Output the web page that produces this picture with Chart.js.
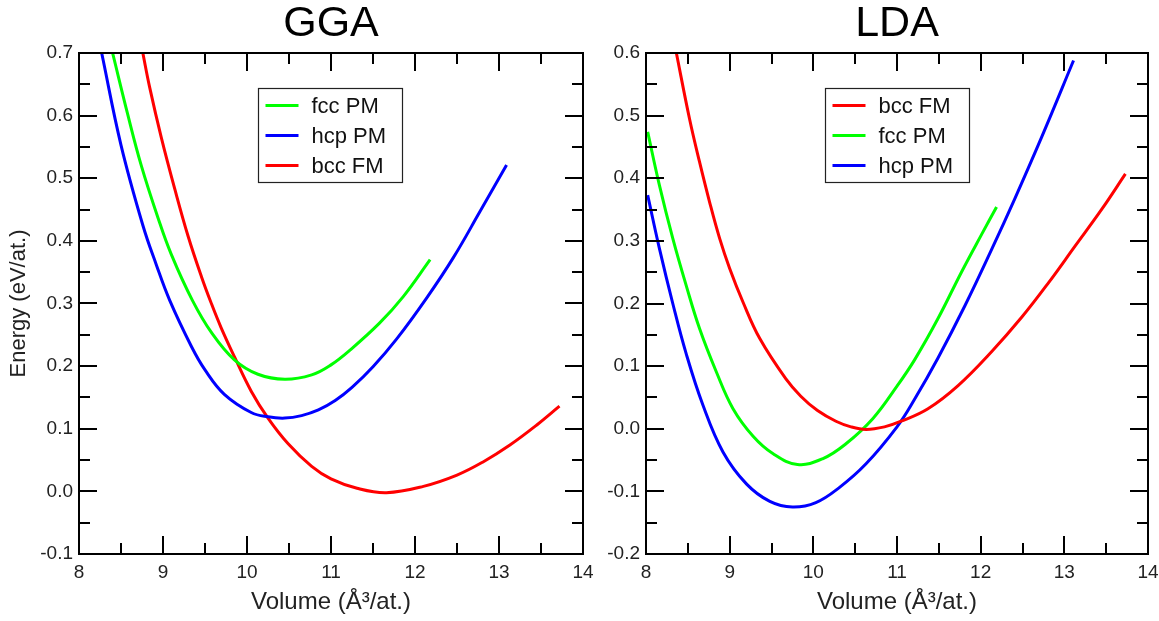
<!DOCTYPE html>
<html>
<head>
<meta charset="utf-8">
<script src="https://cdn.jsdelivr.net/npm/chart.js@4.4.0/dist/chart.umd.min.js"></script>
<style>
  html, body { margin: 0; padding: 0; background: #fff; }
  #wrap { position: relative; width: 1159px; height: 621px; }
  #ggaBox { position: absolute; left: 0; top: 0; width: 595px; height: 621px; }
  #ldaBox { position: absolute; left: 595px; top: 0; width: 564px; height: 621px; }
</style>
</head>
<body>
<div id="wrap">
  <div id="ggaBox"><canvas id="ggaChart"></canvas></div>
  <div id="ldaBox"><canvas id="ldaChart"></canvas></div>
</div>
<script>
// GGA curves (volume in A^3/at., energy in eV/at.)
const ggaFccV = [8.40, 8.58, 8.74, 8.94, 9.10, 9.35, 9.58, 9.85, 10.13, 10.45, 10.77, 11.00, 11.23, 11.58, 11.86, 12.18];
const ggaFccE = [0.700, 0.602, 0.521, 0.437, 0.378, 0.305, 0.253, 0.210, 0.187, 0.179, 0.186, 0.202, 0.226, 0.269, 0.311, 0.370];
const ggaHcpV = [8.27, 8.50, 8.76, 8.92, 9.08, 9.34, 9.50, 9.73, 10.05, 10.25, 10.45, 10.65, 10.85, 11.05, 11.25, 11.50, 11.78, 12.14, 12.46, 12.77, 13.09];
const ggaHcpE = [0.700, 0.553, 0.425, 0.362, 0.305, 0.231, 0.194, 0.155, 0.126, 0.119, 0.117, 0.121, 0.130, 0.145, 0.166, 0.199, 0.243, 0.309, 0.374, 0.446, 0.521];
const ggaBccV = [8.76, 8.84, 8.98, 9.14, 9.30, 9.46, 9.57, 9.69, 9.85, 10.05, 10.25, 10.49, 10.77, 11.00, 11.31, 11.66, 12.10, 12.50, 12.81, 13.13, 13.45, 13.72];
const ggaBccE = [0.700, 0.646, 0.565, 0.483, 0.407, 0.342, 0.302, 0.262, 0.215, 0.160, 0.117, 0.076, 0.040, 0.020, 0.005, -0.002, 0.008, 0.026, 0.047, 0.074, 0.106, 0.136];

// LDA curves
const ldaBccV = [8.36, 8.52, 8.64, 8.76, 8.88, 9.00, 9.16, 9.36, 9.67, 9.85, 10.05, 10.27, 10.45, 10.63, 10.85, 11.05, 11.37, 11.73, 12.13, 12.49, 12.81, 13.13, 13.45, 13.73];
const ldaBccE = [0.602, 0.495, 0.426, 0.362, 0.304, 0.256, 0.202, 0.144, 0.080, 0.052, 0.029, 0.012, 0.003, -0.001, 0.003, 0.012, 0.032, 0.069, 0.123, 0.178, 0.233, 0.292, 0.351, 0.407];
const ldaFccV = [8.02, 8.16, 8.32, 8.48, 8.64, 8.84, 9.04, 9.28, 9.52, 9.81, 10.11, 10.39, 10.71, 11.00, 11.21, 11.49, 11.77, 12.01, 12.19];
const ldaFccE = [0.474, 0.389, 0.304, 0.229, 0.160, 0.091, 0.032, -0.012, -0.040, -0.057, -0.048, -0.024, 0.016, 0.068, 0.110, 0.176, 0.250, 0.310, 0.354];
const ldaHcpV = [8.02, 8.16, 8.32, 8.48, 8.68, 8.92, 9.20, 9.48, 9.75, 10.03, 10.31, 10.63, 11.00, 11.21, 11.49, 11.81, 12.13, 12.41, 12.73, 13.11];
const ldaHcpE = [0.373, 0.288, 0.200, 0.120, 0.038, -0.037, -0.088, -0.116, -0.125, -0.118, -0.094, -0.056, 0.003, 0.047, 0.113, 0.196, 0.286, 0.368, 0.466, 0.588];

const xTickValues = [8, 9, 10, 11, 12, 13, 14];
const ggaYRange = [-0.1, 0.7];
const ldaYRange = [-0.2, 0.6];

const FONT = "'Liberation Sans', Arial, Helvetica, sans-serif";
const RED = "#ff0000", GREEN = "#00ff00", BLUE = "#0000ff";

function pts(xs, ys) {
    return xs.map((v, i) => ({ x: v, y: ys[i] }));
}

function series(label, xs, ys, color) {
    return {
        label: label,
        data: pts(xs, ys),
        borderColor: color,
        backgroundColor: color,
        borderWidth: 3,
        pointRadius: 0,
        tension: 0.4,
        fill: false
    };
}

// frame + inward ticks on all four sides, plus legend box inside the plot
const frameTicks = {
    id: "frameTicks",
    afterDatasetsDraw(chart) {
        const { ctx, chartArea: a, scales: { x, y } } = chart;
        ctx.save();
        ctx.strokeStyle = "#000";
        ctx.lineWidth = 2;
        ctx.strokeRect(a.left, a.top, a.right - a.left, a.bottom - a.top);
        ctx.beginPath();
        const nx = Math.round((x.max - x.min) / 0.5);
        for (let k = 0; k <= nx; k++) {
            const px = Math.round(x.getPixelForValue(x.min + k * 0.5));
            const len = k % 2 === 0 ? 18 : 11;
            ctx.moveTo(px, a.bottom); ctx.lineTo(px, a.bottom - len);
            ctx.moveTo(px, a.top); ctx.lineTo(px, a.top + len);
        }
        const ny = Math.round((y.max - y.min) / 0.05);
        for (let k = 0; k <= ny; k++) {
            const py = Math.round(y.getPixelForValue(y.min + k * 0.05));
            const len = k % 2 === 0 ? 18 : 11;
            ctx.moveTo(a.left, py); ctx.lineTo(a.left + len, py);
            ctx.moveTo(a.right, py); ctx.lineTo(a.right - len, py);
        }
        ctx.stroke();

        // legend
        const bx = a.left + 179.5, by = a.top + 35.5, bw = 144, bh = 94;
        ctx.fillStyle = "#fff";
        ctx.fillRect(bx, by, bw, bh);
        ctx.lineWidth = 1.2;
        ctx.strokeStyle = "#222";
        ctx.strokeRect(bx, by, bw, bh);
        ctx.font = "22px " + FONT;
        ctx.textBaseline = "middle";
        chart.data.datasets.forEach((ds, i) => {
            const ly = by + 17 + i * 30;
            ctx.strokeStyle = ds.borderColor;
            ctx.lineWidth = 3;
            ctx.beginPath();
            ctx.moveTo(bx + 7, ly);
            ctx.lineTo(bx + 40, ly);
            ctx.stroke();
            ctx.fillStyle = "#111";
            ctx.fillText(ds.label, bx + 53, ly + 1);
        });
        ctx.restore();
    }
};

function makeChart(id, title, datasets, yRange, yWidth, showYTitle, padRight) {
    return new Chart(document.getElementById(id), {
        type: "line",
        data: { datasets: datasets },
        plugins: [frameTicks],
        options: {
            responsive: true,
            maintainAspectRatio: false,
            animation: false,
            layout: { padding: { left: 0, right: padRight, top: 0, bottom: 0 } },
            plugins: {
                legend: { display: false },
                tooltip: { enabled: false },
                title: {
                    display: true,
                    fullSize: false,
                    text: title,
                    color: "#000",
                    font: { family: FONT, size: 43, weight: "normal", lineHeight: 1.1 },
                    padding: { top: 0, bottom: 5.7 }
                }
            },
            scales: {
                x: {
                    type: "linear",
                    min: xTickValues[0],
                    max: xTickValues[xTickValues.length - 1],
                    afterBuildTicks: s => { s.ticks = xTickValues.map(v => ({ value: v })); },
                    grid: { display: false, drawTicks: false, tickLength: 0 },
                    border: { display: false },
                    ticks: {
                        color: "#222",
                        padding: 7,
                        maxRotation: 0,
                        font: { family: FONT, size: 19 },
                        callback: v => String(v)
                    },
                    title: {
                        display: true,
                        text: "Volume (Å³/at.)",
                        color: "#222",
                        font: { family: FONT, size: 24 },
                        padding: { top: 0, bottom: 4 }
                    },
                    afterFit: s => {
                        s.height = 67;
                        s.paddingLeft = 0;
                        s.paddingRight = 0;
                    }
                },
                y: {
                    type: "linear",
                    min: yRange[0],
                    max: yRange[1],
                    ticks: {
                        stepSize: 0.1,
                        color: "#222",
                        padding: 6,
                        font: { family: FONT, size: 19 },
                        callback: v => (Math.round(v * 10) / 10 + 0).toFixed(1)
                    },
                    grid: { display: false, drawTicks: false, tickLength: 0 },
                    border: { display: false },
                    title: {
                        display: showYTitle,
                        text: "Energy (eV/at.)",
                        color: "#222",
                        font: { family: FONT, size: 22 },
                        padding: { top: 6, bottom: 0 }
                    },
                    afterFit: s => {
                        s.width = yWidth;
                        s.paddingTop = 0;
                        s.paddingBottom = 0;
                    }
                }
            }
        }
    });
}

document.addEventListener("DOMContentLoaded", function () {
    makeChart("ggaChart", "GGA", [
        series("fcc PM", ggaFccV, ggaFccE, GREEN),
        series("hcp PM", ggaHcpV, ggaHcpE, BLUE),
        series("bcc FM", ggaBccV, ggaBccE, RED)
    ], ggaYRange, 79, true, 12);

    makeChart("ldaChart", "LDA", [
        series("bcc FM", ldaBccV, ldaBccE, RED),
        series("fcc PM", ldaFccV, ldaFccE, GREEN),
        series("hcp PM", ldaHcpV, ldaHcpE, BLUE)
    ], ldaYRange, 51, false, 11);
});
</script>
</body>
</html>
